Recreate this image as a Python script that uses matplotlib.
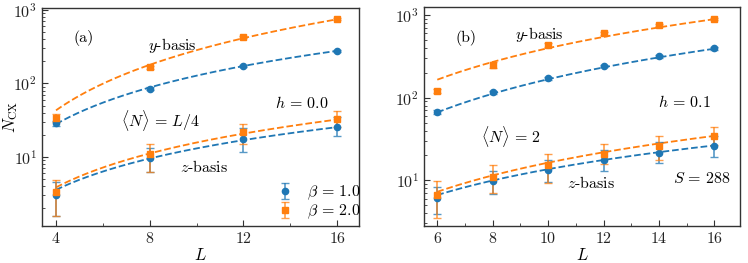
import numpy as np
import matplotlib
matplotlib.use('Agg')
import matplotlib.pyplot as plt
from matplotlib.ticker import NullFormatter, MultipleLocator

plt.rcParams['font.family'] = 'cmr10'
plt.rcParams['mathtext.fontset'] = 'cm'
plt.rcParams['axes.formatter.use_mathtext'] = True
plt.rcParams['axes.unicode_minus'] = False

BLUE = '#1f77b4'
ORANGE = '#ff7f0e'
FRAME = '#333333'
FS = 11.5

# ---- panel (a): h = 0.0, <N> = L/4
L_a = [4, 8, 12, 16]
ya_b1 = [28.6, 84.6, 172, 278]
ya_b1_lo = [26.5, 81, 166, 270]
ya_b1_hi = [30.5, 88, 178, 286]
ya_b2 = [34, 165, 427, 743]
ya_b2_lo = [30.1, 155, 410, 720]
ya_b2_hi = [38.7, 175, 445, 766]
za_b1 = [3.04, 9.6, 17.4, 25.9]
za_b1_lo = [1.57, 6.3, 11.8, 19.3]
za_b1_hi = [4.5, 13.1, 24.6, 35.0]
za_b2 = [3.3, 10.9, 21.7, 32.5]
za_b2_lo = [1.57, 6.3, 15.0, 25.3]
za_b2_hi = [4.9, 15.0, 28.0, 42.7]
# fitted curves N = amp * L**exp  (y-basis b1, y-basis b2, z-basis b1, z-basis b2)
fit_a_amp = [2.82, 2.49, 0.50, 0.46]
fit_a_exp = [1.655, 2.056, 1.417, 1.533]

# ---- panel (b): h = 0.1, <N> = 2, S = 288
L_b = [6, 8, 10, 12, 14, 16]
yb_b1 = [66.8, 116, 171, 240, 315, 394]
yb_b1_lo = [63, 111, 165, 232, 305, 382]
yb_b1_hi = [71, 121, 177, 248, 325, 406]
yb_b2 = [121, 249, 433, 602, 755, 893]
yb_b2_lo = [113, 229, 412, 580, 730, 865]
yb_b2_hi = [128, 268, 455, 625, 780, 920]
zb_b1 = [6.08, 9.7, 13.3, 17.6, 21.6, 26.3]
zb_b1_lo = [3.9, 6.8, 9.5, 13.1, 16.0, 19.1]
zb_b1_hi = [8.4, 12.9, 17.4, 23.0, 28.7, 34.6]
zb_b2 = [6.7, 11.0, 15.3, 20.6, 25.8, 34.3]
zb_b2_lo = [3.5, 7.0, 9.3, 15.6, 17.4, 26.9]
zb_b2_hi = [9.7, 15.3, 20.6, 27.4, 34.6, 44.6]
fit_b_amp = [2.59, 7.57, 0.53, 0.42]
fit_b_exp = [1.81, 1.72, 1.41, 1.59]


def draw_series(ax, L, y, lo, hi, color, marker, label=None):
    y = np.array(y)
    yerr = [y - np.array(lo), np.array(hi) - y]
    eb = ax.errorbar(L, y, yerr=yerr, fmt=marker, color=color, ms=4.5,
                     capsize=3, elinewidth=1.2, capthick=1.0,
                     ecolor=color, label=label, zorder=3)
    for line in eb[2]:
        line.set_alpha(0.75)
    for cap in eb[1]:
        cap.set_alpha(0.75)
    return eb


def draw_fit(ax, L, amp, exp, color):
    xs = np.linspace(L[0], L[-1], 200)
    ax.plot(xs, amp * xs ** exp, '--', color=color, lw=1.3, zorder=2)


def style_axes(ax):
    ax.set_yscale('log')
    for s in ax.spines.values():
        s.set_color(FRAME)
        s.set_linewidth(1.0)
    ax.tick_params(which='both', direction='in', colors=FRAME,
                   labelcolor='#222222', labelsize=11.5)
    ax.tick_params(which='major', length=4.5)
    ax.tick_params(which='minor', length=2.5)
    ax.yaxis.set_minor_formatter(NullFormatter())
    ax.set_xlabel(r'$L$', fontsize=12, labelpad=1)


fig = plt.figure(figsize=(7.48, 2.63), dpi=100)
ax1 = fig.add_axes([0.0561, 0.1418, 0.4245, 0.8278])
ax2 = fig.add_axes([0.5668, 0.1418, 0.4225, 0.8304])

# panel (a)
style_axes(ax1)
draw_fit(ax1, L_a, fit_a_amp[0], fit_a_exp[0], BLUE)
draw_fit(ax1, L_a, fit_a_amp[1], fit_a_exp[1], ORANGE)
draw_fit(ax1, L_a, fit_a_amp[2], fit_a_exp[2], BLUE)
draw_fit(ax1, L_a, fit_a_amp[3], fit_a_exp[3], ORANGE)
draw_series(ax1, L_a, ya_b1, ya_b1_lo, ya_b1_hi, BLUE, 'o')
draw_series(ax1, L_a, ya_b2, ya_b2_lo, ya_b2_hi, ORANGE, 's')
h1 = draw_series(ax1, L_a, za_b1, za_b1_lo, za_b1_hi, BLUE, 'o', r'$\beta\,=\,1.0$')
h2 = draw_series(ax1, L_a, za_b2, za_b2_lo, za_b2_hi, ORANGE, 's', r'$\beta\,=\,2.0$')
ax1.set_xlim(3.4, 16.95)
ax1.set_ylim(1.16, 1.06e3)
ax1.xaxis.set_major_locator(MultipleLocator(4))
ax1.xaxis.set_minor_locator(MultipleLocator(2))
ax1.set_ylabel(r'$N_{\rm CX}$', fontsize=12)
ax1.yaxis.set_label_coords(-0.07, 0.5)
ax1.text(0.098, 0.86, '(a)', transform=ax1.transAxes, fontsize=FS, ha='left', va='center')
ax1.text(0.41, 0.827, r'$y$-basis', transform=ax1.transAxes, fontsize=FS, ha='center', va='center')
ax1.text(0.372, 0.485, r'$\langle N\rangle\,=\,L/4$', transform=ax1.transAxes, fontsize=FS, ha='center', va='center')
ax1.text(0.82, 0.563, r'$h\,=\,0.0$', transform=ax1.transAxes, fontsize=FS, ha='center', va='center')
ax1.text(0.51, 0.27, r'$z$-basis', transform=ax1.transAxes, fontsize=FS, ha='center', va='center')
ax1.legend(handles=[h1, h2], loc='lower right', bbox_to_anchor=(1.05, -0.045),
           frameon=False, fontsize=FS, handletextpad=0.8, labelspacing=0.05,
           handlelength=1.2)

# panel (b)
style_axes(ax2)
draw_fit(ax2, L_b, fit_b_amp[0], fit_b_exp[0], BLUE)
draw_fit(ax2, L_b, fit_b_amp[1], fit_b_exp[1], ORANGE)
draw_fit(ax2, L_b, fit_b_amp[2], fit_b_exp[2], BLUE)
draw_fit(ax2, L_b, fit_b_amp[3], fit_b_exp[3], ORANGE)
draw_series(ax2, L_b, yb_b1, yb_b1_lo, yb_b1_hi, BLUE, 'o')
draw_series(ax2, L_b, yb_b2, yb_b2_lo, yb_b2_hi, ORANGE, 's')
draw_series(ax2, L_b, zb_b1, zb_b1_lo, zb_b1_hi, BLUE, 'o')
draw_series(ax2, L_b, zb_b2, zb_b2_lo, zb_b2_hi, ORANGE, 's')
ax2.set_xlim(5.52, 16.92)
ax2.set_ylim(2.82, 1.24e3)
ax2.xaxis.set_major_locator(MultipleLocator(2))
ax2.xaxis.set_minor_locator(MultipleLocator(1))
ax2.text(0.10, 0.86, '(b)', transform=ax2.transAxes, fontsize=FS, ha='left', va='center')
ax2.text(0.365, 0.875, r'$y$-basis', transform=ax2.transAxes, fontsize=FS, ha='center', va='center')
ax2.text(0.825, 0.567, r'$h\,=\,0.1$', transform=ax2.transAxes, fontsize=FS, ha='center', va='center')
ax2.text(0.275, 0.408, r'$\langle N\rangle\,=\,2$', transform=ax2.transAxes, fontsize=FS, ha='center', va='center')
ax2.text(0.53, 0.195, r'$z$-basis', transform=ax2.transAxes, fontsize=FS, ha='center', va='center')
ax2.text(0.88, 0.215, r'$S\,=\,288$', transform=ax2.transAxes, fontsize=FS, ha='center', va='center')

fig.savefig('out.png', dpi=100)
